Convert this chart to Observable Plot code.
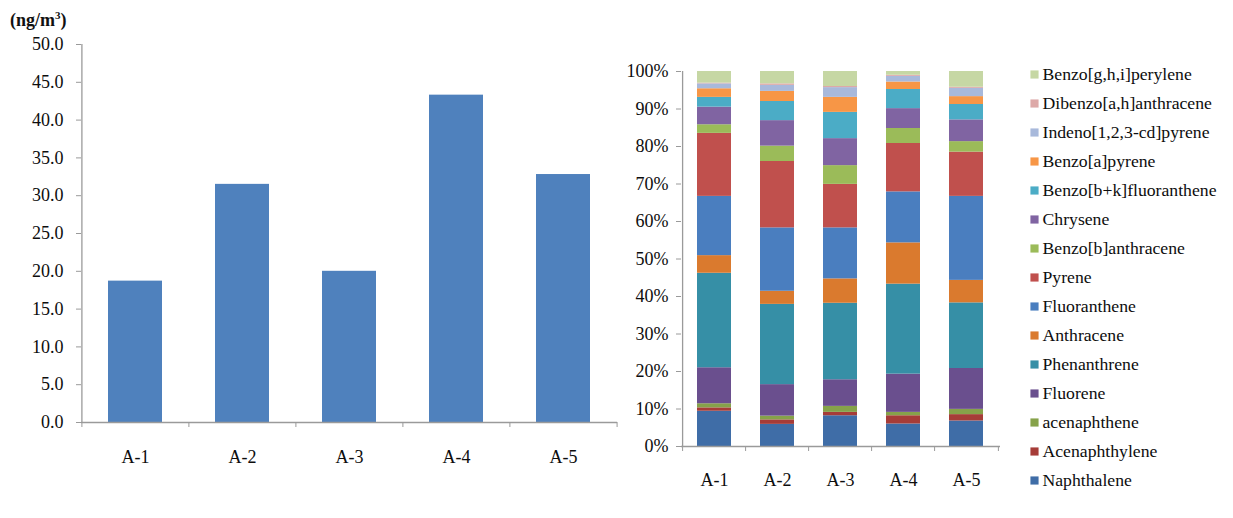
<!DOCTYPE html>
<html>
<head>
<meta charset="utf-8">
<script src="https://cdn.jsdelivr.net/npm/d3@7"></script>
<script src="https://cdn.jsdelivr.net/npm/@observablehq/plot@0.6"></script>
<style>
  html, body { margin: 0; padding: 0; background: #fff; }
  #wrap { position: relative; width: 1233px; height: 518px; overflow: hidden; font-family: "Liberation Serif", "Times New Roman", serif; }
  #title { position: absolute; left: 10px; top: 9px; font-weight: bold; font-size: 18px; color: #111; }
  #title sup { font-size: 11px; vertical-align: 7px; }
  .panel { position: absolute; top: 0; }
</style>
</head>
<body>
<div id="wrap">
  <div id="left" class="panel" style="left:0px"></div>
  <div id="right" class="panel" style="left:600px"></div>
  <div id="legend" class="panel" style="left:1020px"></div>
  <div id="title">(ng/m<sup>3</sup>)</div>
</div>
<script>
// ---- data ----
const sites = ["A-1", "A-2", "A-3", "A-4", "A-5"];
const totals = [18.7, 31.5, 20.0, 43.3, 32.8];           // ng/m3
const yTicksLeft = [0, 5, 10, 15, 20, 25, 30, 35, 40, 45, 50];
const yTicksRight = [0, 10, 20, 30, 40, 50, 60, 70, 80, 90, 100];

const compounds = [
  "Naphthalene", "Acenaphthylene", "acenaphthene", "Fluorene", "Phenanthrene",
  "Anthracene", "Fluoranthene", "Pyrene", "Benzo[b]anthracene", "Chrysene",
  "Benzo[b+k]fluoranthene", "Benzo[a]pyrene", "Indeno[1,2,3-cd]pyrene",
  "Dibenzo[a,h]anthracene", "Benzo[g,h,i]perylene"
];
// percentage composition per site (bottom -> top)
const shareA1 = [9.4, 0.9, 1.1, 9.6, 25.2, 4.7, 15.8, 16.8, 2.3, 4.7, 2.6, 2.3, 1.3, 0.2, 3.1];
const shareA2 = [5.9, 1.2, 1.0, 8.4, 21.4, 3.5, 16.9, 17.7, 4.1, 6.8, 5.1, 2.7, 1.6, 0.4, 3.3];
const shareA3 = [8.2, 0.9, 1.6, 7.1, 20.4, 6.5, 13.6, 11.6, 5.0, 7.2, 7.0, 4.0, 2.6, 0.3, 4.0];
const shareA4 = [6.0, 2.2, 0.9, 10.2, 24.0, 11.0, 13.6, 12.9, 4.0, 5.3, 5.1, 2.0, 1.5, 0.3, 1.0];
const shareA5 = [6.8, 1.7, 1.4, 10.9, 17.5, 6.0, 22.4, 11.8, 2.8, 5.8, 4.1, 2.1, 2.2, 0.3, 4.2];
const colors = [
  "#3F6DA7", "#A63C38", "#86A24A", "#6A4F8E", "#368FA6",
  "#DA7A2E", "#4A7EBF", "#C0504D", "#9BBB59", "#8064A2",
  "#4BACC6", "#F79646", "#A8B9DB", "#DDA9A8", "#C6D7A4"
];

// ---- tables ----
const totalRows = sites.map((s, i) => ({site: s, total: totals[i]}));
const shares = [shareA1, shareA2, shareA3, shareA4, shareA5];
const stackRows = [];
sites.forEach((s, i) => compounds.forEach((c, j) => stackRows.push({site: s, compound: c, value: shares[i][j]})));

const axisColor = "#9a9a9a";
const textColor = "#0d0d0d";
const font = "'Liberation Serif', 'Times New Roman', serif";

// ---- left chart ----
const L = {ml: 81, mr: 23, mt: 44, mb: 96, w: 640, h: 518};
const lStep = (L.w - L.ml - L.mr) / 5;
const left = Plot.plot({
  width: L.w, height: L.h,
  marginLeft: L.ml, marginRight: L.mr, marginTop: L.mt, marginBottom: L.mb,
  style: {fontFamily: font, fontSize: "18px", color: textColor, background: "transparent", overflow: "visible"},
  x: {domain: sites, paddingInner: 0.5, paddingOuter: 0.25, axis: null},
  y: {domain: [0, 50], axis: null},
  marks: [
    Plot.barY(totalRows, {x: "site", y: "total", fill: "#4F81BD"}),
    Plot.ruleY([0], {stroke: axisColor, strokeWidth: 1.3}),
    Plot.ruleX([sites[0]], {y1: 0, y2: 50, dx: -lStep / 2, stroke: axisColor, strokeWidth: 1.3}),
    Plot.ruleX(sites, {y1: 0, y2: 0, insetBottom: -5, dx: -lStep / 2, stroke: axisColor}),
    Plot.ruleX([sites[4]], {y1: 0, y2: 0, insetBottom: -5, dx: lStep / 2, stroke: axisColor}),
    Plot.axisY({ticks: yTicksLeft, tickSize: 5, tickPadding: 13, label: null, tickFormat: d => d.toFixed(1), stroke: axisColor, fill: textColor}),
    Plot.axisX({tickSize: 0, tickPadding: 28, label: null, fill: textColor})
  ]
});
document.getElementById("left").appendChild(left);

// ---- right chart ----
const R = {ml: 81, mr: 20, mt: 71, mb: 72, w: 420, h: 518};
const rStep = (R.w - R.ml - R.mr) / 5;
const color = {domain: compounds, range: colors};
const right = Plot.plot({
  width: R.w, height: R.h,
  marginLeft: R.ml, marginRight: R.mr, marginTop: R.mt, marginBottom: R.mb,
  style: {fontFamily: font, fontSize: "18px", color: textColor, background: "transparent", overflow: "visible"},
  x: {domain: sites, paddingInner: 0.46, paddingOuter: 0.23, axis: null},
  y: {domain: [0, 100], axis: null},
  color: color,
  marks: [
    Plot.barY(stackRows, {x: "site", y: "value", fill: "compound"}),
    Plot.ruleY([0], {stroke: axisColor, strokeWidth: 1.3}),
    Plot.ruleX([sites[0]], {y1: 0, y2: 100, dx: -rStep / 2, stroke: axisColor, strokeWidth: 1.3}),
    Plot.ruleX(sites, {y1: 0, y2: 0, insetBottom: -5, dx: -rStep / 2, stroke: axisColor}),
    Plot.ruleX([sites[4]], {y1: 0, y2: 0, insetBottom: -5, dx: rStep / 2, stroke: axisColor}),
    Plot.axisY({ticks: yTicksRight, tickSize: 5, tickPadding: 8, label: null, tickFormat: d => d + "%", stroke: axisColor, fill: textColor}),
    Plot.axisX({tickSize: 0, tickPadding: 27, label: null, fill: textColor})
  ]
});
document.getElementById("right").appendChild(right);

// ---- legend ----
const legendOrder = compounds.slice().reverse();
const legend = Plot.plot({
  width: 213, height: 518,
  margin: 0,
  style: {fontFamily: font, fontSize: "17.7px", color: textColor, background: "transparent", overflow: "visible"},
  x: {domain: [0, 1], range: [14, 200], axis: null},
  y: {type: "point", domain: legendOrder, range: [73, 481], padding: 0, axis: null},
  color: color,
  marks: [
    Plot.dot(legendOrder, {x: 0, y: d => d, symbol: "square", r: 4.6, fill: d => d, stroke: null}),
    Plot.text(legendOrder, {x: 0, y: d => d, dx: 8, textAnchor: "start", fill: textColor})
  ]
});
document.getElementById("legend").appendChild(legend);
</script>
</body>
</html>
